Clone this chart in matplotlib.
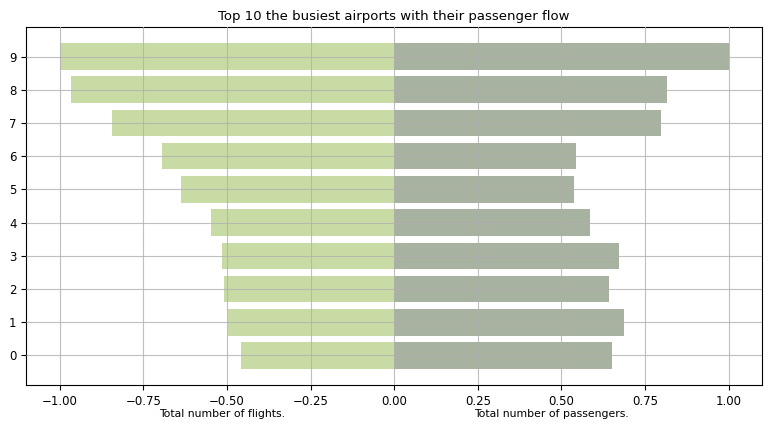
import matplotlib
matplotlib.use("Agg")
import matplotlib.pyplot as plt
import numpy as np

positions = list(range(10))
flights = [-0.458, -0.498, -0.509, -0.516, -0.549, -0.638, -0.694, -0.845, -0.967, -1.0]
passengers = [0.652, 0.688, 0.642, 0.672, 0.586, 0.537, 0.544, 0.799, 0.816, 1.0]
title = "Top 10 the busiest airports with their passenger flow"
label_left = "Total number of flights."
label_right = "Total number of passengers."

plt.rcParams['font.family'] = ['DejaVu Sans']
fig = plt.figure(figsize=(7.77, 4.26), dpi=100)
ax = fig.add_axes([0.0339, 0.0962, 0.9468, 0.8404])

ax.barh(positions, flights, height=0.8, color='#c9dba5', zorder=1)
ax.barh(positions, passengers, height=0.8, color='#a8b2a0', zorder=1)
ax.set_axisbelow(False)
ax.grid(True, color='#b0b0b0', linewidth=0.8, alpha=0.8, zorder=2)
ax.set_yticks(positions)
ax.set_xticks([-1.0, -0.75, -0.5, -0.25, 0.0, 0.25, 0.5, 0.75, 1.0])
ax.tick_params(labelsize=8.5)
ax.set_title(title, fontsize=9.5, pad=5)

ax.text(0.266, -0.08, label_left, transform=ax.transAxes, ha='center', va='center', fontsize=7.8)
ax.text(0.714, -0.08, label_right, transform=ax.transAxes, ha='center', va='center', fontsize=7.8)

fig.savefig("out.png", dpi=100)
